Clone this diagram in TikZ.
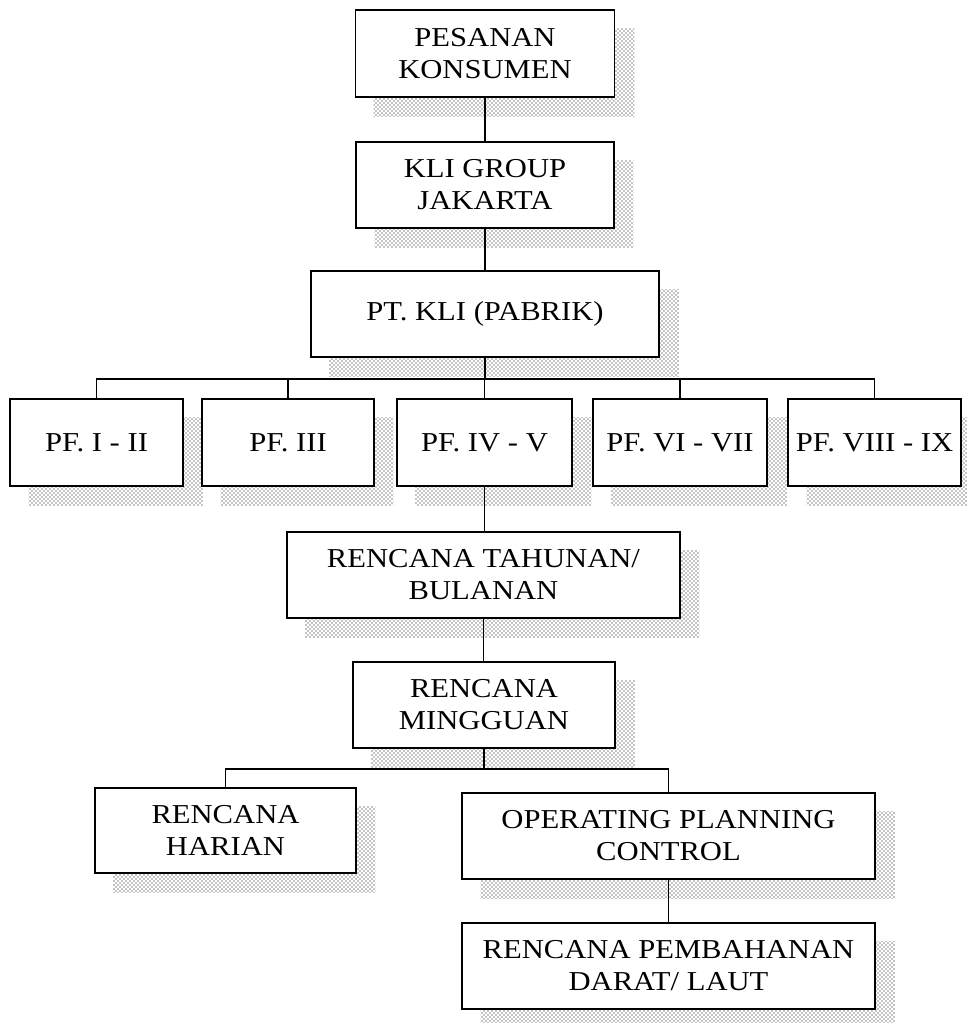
\documentclass[tikz,border=0pt]{standalone}
\usepackage{fontspec}
\setmainfont{Liberation Serif}[FakeStretch=1.12]
\usetikzlibrary{patterns,backgrounds}
\begin{document}
\begin{tikzpicture}[x=0.75pt,y=-0.75pt,
  box/.style={draw=black,line width=1.1pt,fill=white,align=center,inner sep=0pt,
    font=\fontsize{20.5}{24}\selectfont},
  conn/.style={draw=black,line width=0.9pt},
  shade/.style={pattern=crosshatch dots,pattern color=black}]
\useasboundingbox (0,0) rectangle (966,1023);
% boxes
\node[box,minimum width=194.25pt,minimum height=65.25pt] (b1) at (485,53.5) {PESANAN\\KONSUMEN};
\node[box,minimum width=193.5pt,minimum height=64.5pt] (b2) at (485,185) {KLI GROUP\\JAKARTA};
\node[box,minimum width=261pt,minimum height=64.5pt] (b3) at (485,314) {PT. KLI (PABRIK)};
\node[box,minimum width=129.75pt,minimum height=65.25pt] (p1) at (96.5,442.5) {PF. I - II};
\node[box,minimum width=129pt,minimum height=65.25pt] (p2) at (288,442.5) {PF. III};
\node[box,minimum width=131.25pt,minimum height=65.25pt] (p3) at (484.5,442.5) {PF. IV - V};
\node[box,minimum width=130.5pt,minimum height=65.25pt] (p4) at (680,442.5) {PF. VI - VII};
\node[box,minimum width=129.75pt,minimum height=65.25pt] (p5) at (874.5,442.5) {PF. VIII - IX};
\node[box,minimum width=294.75pt,minimum height=64.5pt] (t) at (483.5,575) {RENCANA TAHUNAN/\\BULANAN};
\node[box,minimum width=196.5pt,minimum height=64.5pt] (m) at (484,705) {RENCANA\\MINGGUAN};
\node[box,minimum width=195.75pt,minimum height=63.75pt] (h) at (225.5,830.5) {RENCANA\\HARIAN};
\node[box,minimum width=309.75pt,minimum height=64.5pt] (o) at (668.5,836) {OPERATING PLANNING\\CONTROL};
\node[box,minimum width=309.75pt,minimum height=64.5pt] (r) at (668.5,966) {RENCANA PEMBAHANAN\\DARAT/ LAUT};
% shadows
\begin{scope}[on background layer]
\foreach \n in {b1,b2,b3,p1,p2,p3,p4,p5,t,m,h,o,r}{
  \fill[shade] ([shift={(19,19)}]\n.north west) rectangle ([shift={(19,19)}]\n.south east);
}
\end{scope}
% connectors
\coordinate (bus1) at (0,379);
\coordinate (bus2) at (0,769);
\draw[conn] (b1.south) -- (b2.north);
\draw[conn] (b2.south) -- (b3.north);
\draw[conn] (b3.south) -- (b3.south |- bus1);
\draw[conn] (p1.north) -- (p1.north |- bus1) -- (p5.north |- bus1) -- (p5.north);
\draw[conn] (p2.north) -- (p2.north |- bus1);
\draw[conn] (p3.north) -- (p3.north |- bus1);
\draw[conn] (p4.north) -- (p4.north |- bus1);
\draw[conn] (p3.south) -- (p3.south |- t.north);
\draw[conn] (t.south) -- (t.south |- m.north);
\draw[conn] (m.south) -- (m.south |- bus2);
\draw[conn] (h.north) -- (h.north |- bus2) -- (o.north |- bus2) -- (o.north);
\draw[conn] (o.south) -- (r.north);
\end{tikzpicture}
\end{document}
